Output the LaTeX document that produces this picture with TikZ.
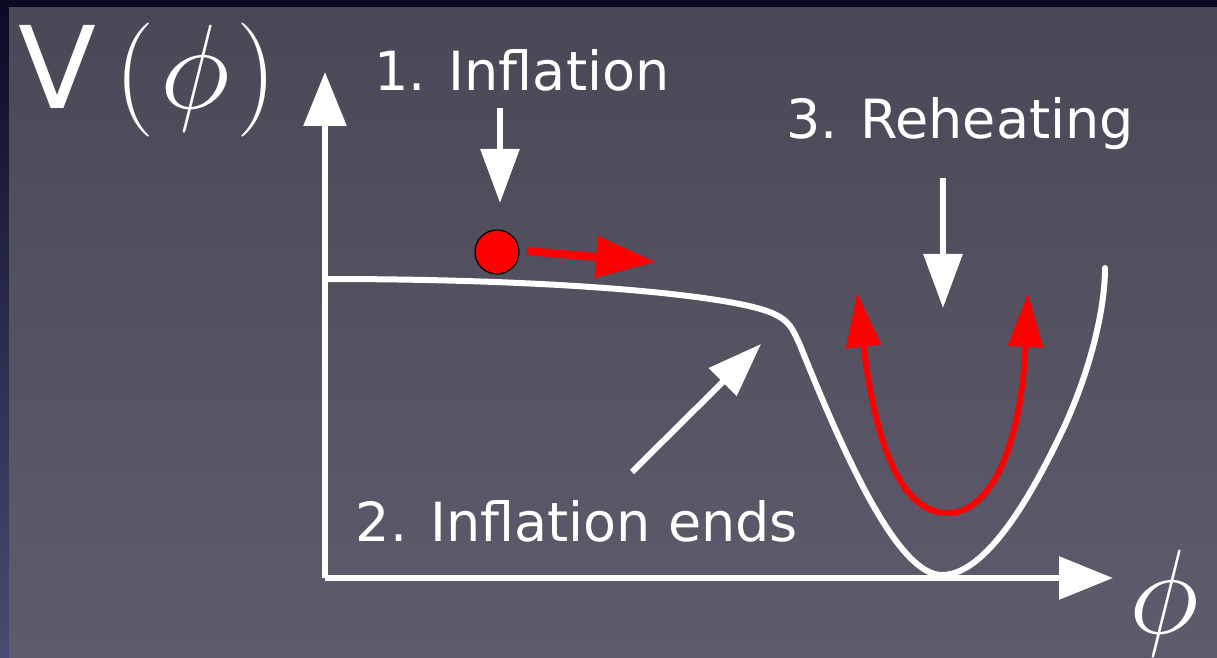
\documentclass[tikz,border=0pt]{standalone}
\usepackage{fix-cm}
\usepackage{fontspec}
\setmainfont{DejaVu Sans}
\newfontfamily\lmr{Latin Modern Roman}
\usetikzlibrary{arrows.meta}
\definecolor{edgedark}{HTML}{0B0A25}
\definecolor{edgeblue}{HTML}{4A4B72}
\definecolor{paneltop}{HTML}{4A4856}
\definecolor{panelbot}{HTML}{5F5B6D}
\definecolor{ballred}{HTML}{FF0000}
\DeclareMathSizes{60}{60}{42}{30}
\tikzset{
   axisline/.style={draw=white, line width=3pt, -{Triangle[length=27pt, width=21pt]}},
   potline/.style={draw=white, line width=3pt, line cap=round},
   pointer/.style={draw=white, line width=3pt, -{Triangle[length=27pt, width=19pt]}},
   redarrow/.style={draw=ballred, line width=3pt, {Triangle[length=27pt, width=17pt]}-{Triangle[length=27pt, width=17pt]}},
   rollarrow/.style={draw=ballred, line width=4pt, -{Triangle[length=30pt, width=20pt]}},
   stage/.style={text=white, font=\fontsize{27}{32}\selectfont, inner sep=0pt}
}

\begin{document}
\begin{tikzpicture}[x=0.5pt, y=-0.5pt]
% background
\fill[edgedark] (0,0) rectangle (1217,658);
\shade[top color=edgedark, bottom color=edgeblue] (0,0) rectangle (9,658);
\shade[top color=paneltop, bottom color=panelbot] (9,8) rectangle (1217,658);
\useasboundingbox (0,0) rectangle (1217,658);

% axes
\coordinate (origin) at (325,578);
\coordinate (ytip) at (325,72);
\coordinate (xtip) at (1113,578);
\draw[axisline] (origin) -- (ytip);
\draw[axisline] (origin) -- (xtip);
\node[text=white, inner sep=0pt, anchor=west] (vlabel) at (18,80)
    {\fontsize{57}{60}\selectfont V\hspace{9pt}{\lmr(}\hspace{3pt}{\fontsize{60}{64}\selectfont$\phi$}\hspace{3pt}{\lmr)}};
\node[text=white, inner sep=0pt] (philabel) at (1164,603)
    {\fontsize{60}{64}\selectfont$\phi$};

% potential
\draw[potline] (327,279) .. controls (560,279) and (730,295) .. (772,313)
    .. controls (790,321) and (792,328) .. (800,345)
    .. controls (850,470) and (900,575) .. (942,575)
    .. controls (985,575) and (1030,500) .. (1065,425)
    .. controls (1090,370) and (1105,310) .. (1105,268);

% stage 1: slow roll
\node[stage] (infl) at (522,70) {1. Inflation};
\coordinate (inflA) at (500,108);
\coordinate (inflB) at (500,203);
\draw[pointer] (inflA) -- (inflB);
\node[circle, fill=ballred, draw=black, line width=0.6pt, minimum size=22pt, inner sep=0pt] (ball) at (497,252) {};
\coordinate (rollA) at (527,251);
\coordinate (rollB) at (656,262);
\draw[rollarrow] (rollA) -- (rollB);

% stage 2: end of inflation
\node[stage] (ends) at (577,521) {2. Inflation ends};
\coordinate (endA) at (632,472);
\coordinate (endB) at (761,344);
\draw[pointer] (endA) -- (endB);

% stage 3: reheating
\node[stage] (reheat) at (960,124) {3. Reheating};
\coordinate (heatA) at (943,178);
\coordinate (heatB) at (943,308);
\draw[pointer] (heatA) -- (heatB);
\coordinate (oscL) at (857,293);
\coordinate (oscB) at (948,513);
\coordinate (oscR) at (1028,293);
\draw[redarrow] (oscL) .. controls (880,480) and (915,513) .. (oscB)
    .. controls (985,513) and (1020,460) .. (oscR);
\end{tikzpicture}
\end{document}
